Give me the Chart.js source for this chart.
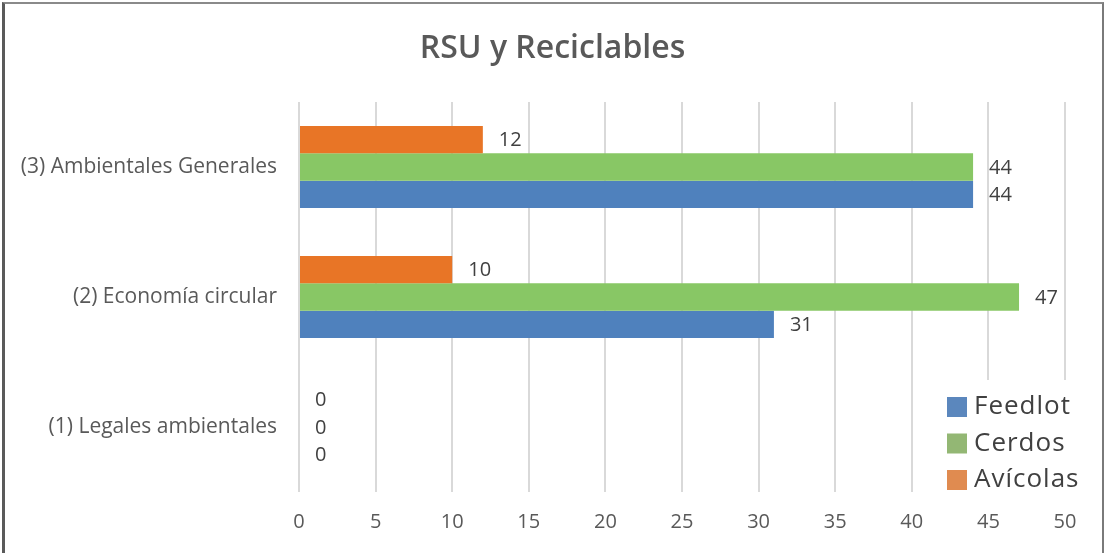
<!DOCTYPE html>
<html>
<head>
<meta charset="utf-8">
<script src="https://cdn.jsdelivr.net/npm/chart.js@4/dist/chart.umd.min.js"></script>
<style>
  html, body { margin: 0; padding: 0; background: #fff; overflow: hidden; }
  #wrap { position: relative; width: 1105px; height: 553px; }
  #frame {
    position: absolute; left: 2px; top: 2px; width: 1097px; height: 600px;
    border-left: 3px solid #5a5a5a; border-top: 2px solid #8a8a8a; border-right: 2px solid #7a7a7a;
    pointer-events: none;
  }
</style>
</head>
<body>
<div id="wrap">
  <canvas id="c" width="1105" height="553"></canvas>
  <div id="frame"></div>
</div>
<script>
// categories top to bottom, as in the picture
const categories = ["(3) Ambientales Generales", "(2) Economía circular", "(1) Legales ambientales"];
const feedlot = [44, 31, 0];
const cerdos = [44, 47, 0];
const avicolas = [12, 10, 0];
const xTicks = [0, 5, 10, 15, 20, 25, 30, 35, 40, 45, 50];
const title = "RSU y Reciclables";

const FONT = "'Open Sans', 'DejaVu Sans', sans-serif";
const TXT = "#595959";

// Avícolas first so it sits on top inside each group
const series = [
  { label: "Avícolas", data: avicolas, color: "#e87526", legend: "#e08b50" },
  { label: "Cerdos", data: cerdos, color: "#88c765", legend: "#93b774" },
  { label: "Feedlot", data: feedlot, color: "#4f81bd", legend: "#5b87bd" },
];

// title centred on the whole canvas, not on the padded layout
const centerTitle = {
  id: "centerTitle",
  afterDraw(chart) {
    const ctx = chart.ctx;
    ctx.save();
    ctx.font = "600 32px " + FONT;
    ctx.fillStyle = TXT;
    ctx.textAlign = "center";
    ctx.textBaseline = "middle";
    ctx.fillText(title, chart.width / 2, 49);
    ctx.restore();
  },
};

const valueLabels = {
  id: "valueLabels",
  afterDatasetsDraw(chart) {
    const ctx = chart.ctx;
    ctx.save();
    ctx.font = "20px " + FONT;
    ctx.fillStyle = "#404040";
    ctx.textAlign = "left";
    ctx.textBaseline = "middle";
    chart.data.datasets.forEach((ds, i) => {
      chart.getDatasetMeta(i).data.forEach((bar, j) => {
        ctx.fillText(String(ds.data[j]), bar.x + 16, bar.y + 1);
      });
    });
    ctx.restore();
  },
};

const boxLegend = {
  id: "boxLegend",
  afterDraw(chart) {
    const ctx = chart.ctx;
    const a = chart.chartArea;
    const x0 = a.right - 126, y0 = a.bottom - 112;
    ctx.save();
    ctx.fillStyle = "#fff";
    ctx.fillRect(x0 - 10, y0, 170, 120);
    ctx.font = "26px " + FONT;
    ctx.letterSpacing = "1px";
    ctx.textBaseline = "middle";
    ctx.textAlign = "left";
    // legend order as in the picture: Feedlot, Cerdos, Avícolas
    [...series].reverse().forEach((s, i) => {
      const cy = y0 + 27 + i * 36.5;
      ctx.fillStyle = s.legend;
      ctx.fillRect(x0 + 8, cy - 10, 20, 20);
      ctx.fillStyle = "#404040";
      ctx.fillText(s.label, x0 + 35, cy);
    });
    ctx.restore();
  },
};

new Chart(document.getElementById("c"), {
  type: "bar",
  data: {
    labels: categories,
    datasets: series.map((s) => ({
      label: s.label, data: s.data, backgroundColor: s.color,
      categoryPercentage: 0.63, barPercentage: 1.0,
    })),
  },
  options: {
    indexAxis: "y",
    responsive: false,
    animation: false,
    layout: { padding: { left: 0, right: 40, top: 102, bottom: 0 } },
    plugins: {
      legend: { display: false },
      tooltip: { enabled: false },
      title: { display: false },
    },
    scales: {
      x: {
        min: 0, max: 50,
        afterBuildTicks: (s) => { s.ticks = xTicks.map((v) => ({ value: v })); },
        afterFit: (s) => { s.height = 61; },
        ticks: { color: TXT, font: { family: FONT, size: 20 }, padding: 18 },
        grid: { color: "#d9d9d9", lineWidth: 2, drawTicks: false },
        border: { display: false },
      },
      y: {
        afterFit: (s) => { s.width = 299; },
        ticks: { color: TXT, font: { family: FONT, size: 21 }, padding: 22 },
        grid: { display: false, drawTicks: false },
        border: { display: false },
      },
    },
  },
  plugins: [valueLabels, boxLegend, centerTitle],
});
</script>
</body>
</html>
